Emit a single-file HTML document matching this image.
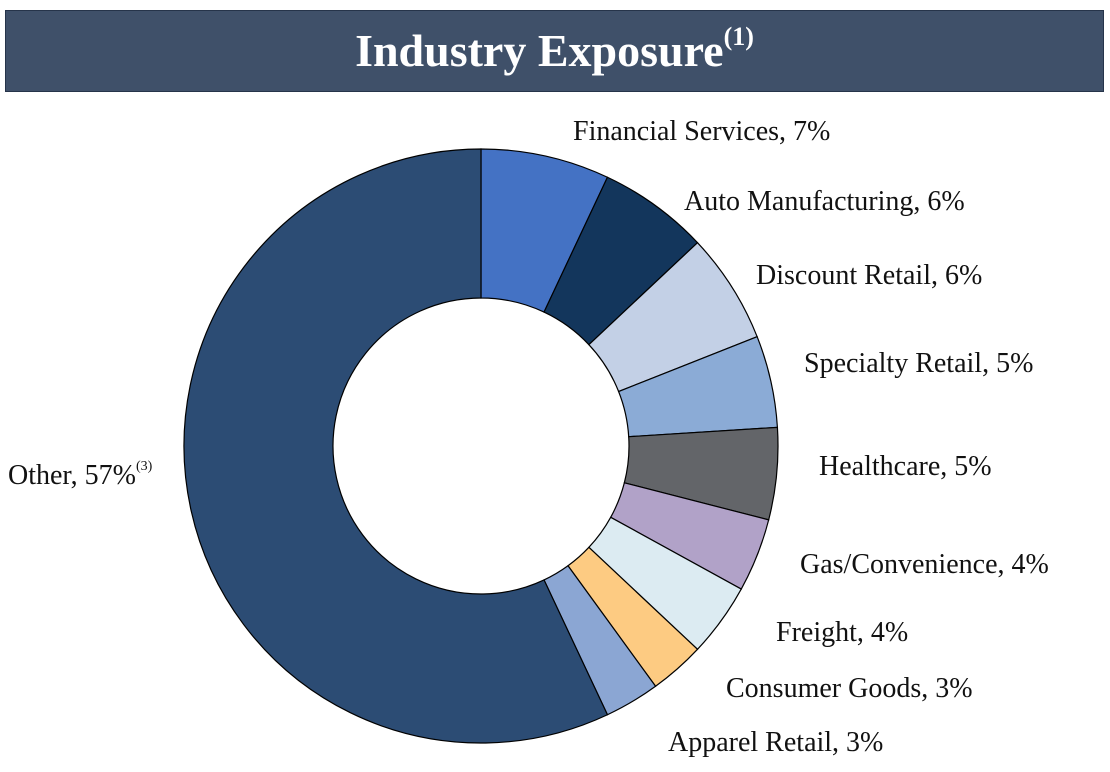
<!DOCTYPE html>
<html><head><meta charset="utf-8"><style>
body{margin:0;width:1110px;height:772px;background:#fff;overflow:hidden;font-family:"Liberation Serif",serif;}
#title{position:absolute;left:5px;top:10px;width:1097px;height:80px;background:#3F5069;border:1px solid #26344a;color:#fff;font-weight:bold;font-size:46px;text-align:center;line-height:80px;}
#title sup{font-size:26px;vertical-align:top;position:relative;top:-14px;}
</style></head><body>
<div id="title">Industry Exposure<sup>(1)</sup></div>
<svg id="chart" width="1110" height="772" style="position:absolute;left:0;top:0"></svg>
<script>
const categories=["Financial Services","Auto Manufacturing","Discount Retail","Specialty Retail","Healthcare","Gas/Convenience","Freight","Consumer Goods","Apparel Retail","Other"];
const values=[7,6,6,5,5,4,4,3,3,57];
const colors=["#4472C4","#13365C","#C3D0E6","#8BABD6","#636569","#B1A2C8","#DCEBF2","#FDCB82","#8BA6D3","#2C4C74"];
const labelPos=[[573,140],[684,210],[756,284],[804,372],[819,475],[800,573],[776,641],[726,697],[668,751],[8,484]];
const svg=document.getElementById('chart');const NS='http://www.w3.org/2000/svg';
const cx=481,cy=446,R=297,r=148;
const total=values.reduce((a,b)=>a+b,0);
let a0=0;
function pt(rad,a){return [cx+rad*Math.sin(a),cy-rad*Math.cos(a)];}
values.forEach((v,i)=>{
 const a1=a0+v/total*2*Math.PI;
 const large=(a1-a0)>Math.PI?1:0;
 const p1=pt(R,a0),p2=pt(R,a1),p3=pt(r,a1),p4=pt(r,a0);
 const p=document.createElementNS(NS,'path');
 p.setAttribute('d',`M${p1}A${R},${R} 0 ${large} 1 ${p2}L${p3}A${r},${r} 0 ${large} 0 ${p4}Z`);
 p.setAttribute('fill',colors[i]);p.setAttribute('stroke','#000');p.setAttribute('stroke-width','1.2');
 
 
 svg.appendChild(p);
 const t=document.createElementNS(NS,'text');
 t.setAttribute('x',labelPos[i][0]);t.setAttribute('y',labelPos[i][1]);
 t.setAttribute('font-size','28');t.setAttribute('fill','#111');t.setAttribute('font-family','Liberation Serif, serif');
 t.textContent=categories[i]+', '+v+'%';
 if(categories[i]==='Other'){const s=document.createElementNS(NS,'tspan');s.setAttribute('font-size','14');s.setAttribute('dy','-14');s.textContent='(3)';t.appendChild(s);}
 
 
 svg.appendChild(t);
 a0=a1;
});
</script>
</body></html>
